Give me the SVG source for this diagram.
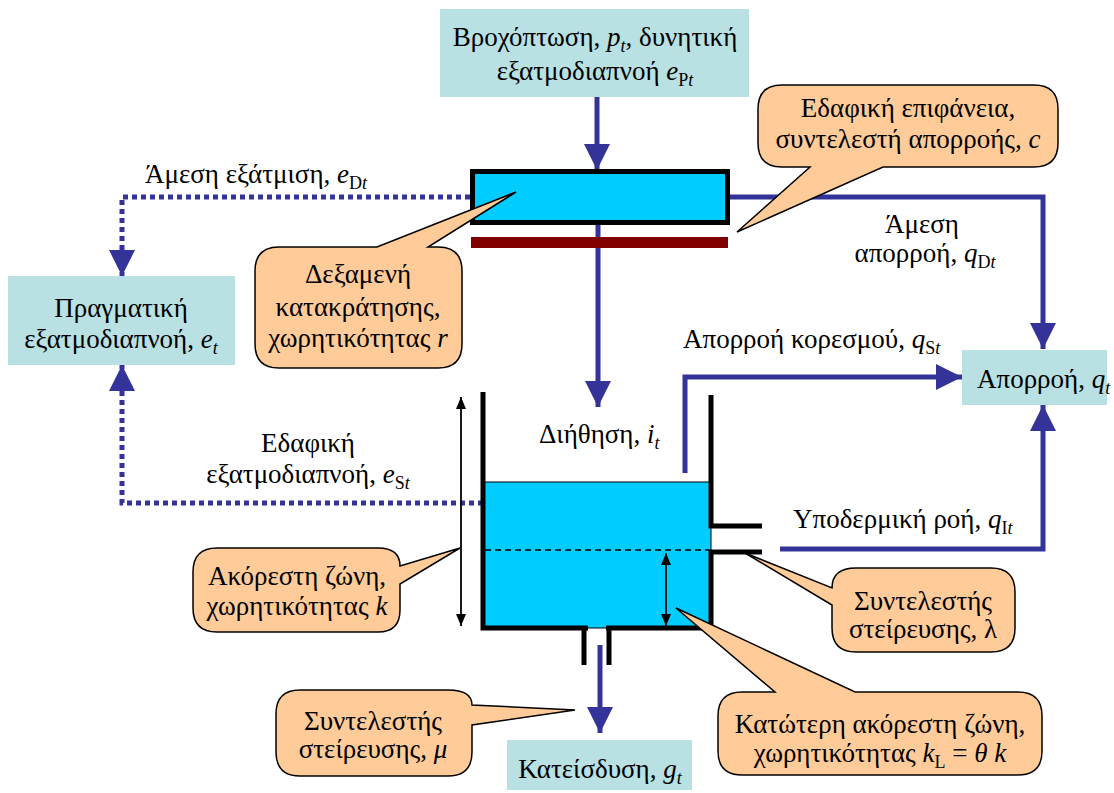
<svg xmlns="http://www.w3.org/2000/svg" width="1114" height="793" viewBox="0 0 1114 793" font-family="'Liberation Serif', 'Times New Roman', serif" font-size="27">
<defs>
<style>
.c{text-anchor:middle}
.i{font-style:italic}
.s{font-size:18px}
.box{fill:#b9e0e3}
.call{fill:#ffcc99;stroke:#000;stroke-width:1.5}
.flow{fill:none;stroke:#333399;stroke-width:5}
.dot{fill:none;stroke:#333399;stroke-width:5;stroke-dasharray:5 4}
.wall{fill:none;stroke:#000;stroke-width:5}
.thin{fill:none;stroke:#000;stroke-width:1.8}
</style>
<marker id="ah" viewBox="0 0 26 26" refX="26" refY="13" markerWidth="26" markerHeight="26" markerUnits="userSpaceOnUse" orient="auto">
<path d="M0,0 L26,13 L0,26 Z" fill="#333399"/>
</marker>
<marker id="bh" viewBox="0 0 12 10" refX="12" refY="5" markerWidth="12" markerHeight="10" markerUnits="userSpaceOnUse" orient="auto-start-reverse">
<path d="M0,0 L12,5 L0,10 Z" fill="#000"/>
</marker>
</defs>
<rect width="1114" height="793" fill="#fff"/>

<g id="connectors">
<path class="flow" d="M597,97 L597,170" marker-end="url(#ah)"/>
<path class="flow" d="M598,225 L598,407" marker-end="url(#ah)"/>
<path class="flow" d="M600,645 L600,733" marker-end="url(#ah)"/>
<path class="flow" d="M730,197 L1043,197 L1043,349" marker-end="url(#ah)"/>
<path class="flow" d="M685,473 L685,377 L962,377" marker-end="url(#ah)"/>
<path class="flow" d="M780,549 L1043,549 L1043,405" marker-end="url(#ah)"/>
<path class="dot" d="M470,197 L122,197 L122,276" marker-end="url(#ah)"/>
<path class="dot" d="M483,503 L122,503 L122,365" marker-end="url(#ah)"/>
</g>

<g id="rainfall">
<rect class="box" x="440" y="9" width="309" height="88"/>
<text class="c" x="595" y="46">Βροχόπτωση, <tspan class="i">p</tspan><tspan class="s i" dy="6">t</tspan><tspan dy="-6">, δυνητική</tspan></text>
<text class="c" x="595" y="80">εξατμοδιαπνοή <tspan class="i">e</tspan><tspan class="s" dy="6">P</tspan><tspan class="s i">t</tspan></text>
</g>

<g id="retention-reservoir">
<rect x="472.5" y="171.5" width="255" height="51" fill="#00ccff" stroke="#000" stroke-width="5"/>
<rect x="471" y="237" width="257" height="11" fill="#800000"/>
</g>

<g id="actual-evapotranspiration">
<rect class="box" x="8" y="276" width="227" height="89"/>
<text class="c" x="121" y="317">Πραγματική</text>
<text class="c" x="121" y="348">εξατμοδιαπνοή, <tspan class="i">e</tspan><tspan class="s i" dy="6">t</tspan></text>
</g>

<g id="runoff">
<rect class="box" x="962" y="350" width="145" height="55"/>
<text x="977" y="388">Απορροή, <tspan class="i">q</tspan><tspan class="s i" dy="6">t</tspan></text>
</g>

<g id="percolation">
<rect class="box" x="507" y="740" width="185" height="50"/>
<text class="c" x="600" y="778">Κατείσδυση, <tspan class="i">g</tspan><tspan class="s i" dy="6">t</tspan></text>
</g>

<g id="soil-tank">
<rect x="483" y="482" width="228" height="146" fill="#00ccff" stroke="#000" stroke-width="1"/>
<path class="wall" d="M483,392 L483,628 L588,628"/>
<path class="wall" d="M606,628 L711,628 L711,552 L762,552"/>
<path class="wall" d="M711,395 L711,526 L762,526"/>
<path class="wall" d="M584,628 L584,665 M609,628 L609,665"/>
<path d="M485,550 L709,550" stroke="#000" stroke-width="1.5" stroke-dasharray="6 4" fill="none"/>
<path class="thin" d="M461,397 L461,626" marker-start="url(#bh)" marker-end="url(#bh)"/>
<path class="thin" d="M666,553 L666,626" marker-start="url(#bh)" marker-end="url(#bh)"/>
</g>

<g id="labels">
<text x="145" y="183">Άμεση εξάτμιση, <tspan class="i">e</tspan><tspan class="s" dy="6">D</tspan><tspan class="s i">t</tspan></text>
<text class="c" x="922" y="233">Άμεση</text>
<text class="c" x="925" y="262">απορροή, <tspan class="i">q</tspan><tspan class="s" dy="6">D</tspan><tspan class="s i">t</tspan></text>
<text x="683" y="348">Απορροή κορεσμού, <tspan class="i">q</tspan><tspan class="s" dy="6">S</tspan><tspan class="s i">t</tspan></text>
<text x="539" y="443">Διήθηση, <tspan class="i">i</tspan><tspan class="s i" dy="6">t</tspan></text>
<text class="c" x="308" y="452">Εδαφική</text>
<text class="c" x="308" y="483">εξατμοδιαπνοή, <tspan class="i">e</tspan><tspan class="s" dy="6">S</tspan><tspan class="s i">t</tspan></text>
<text x="793" y="528">Υποδερμική ροή, <tspan class="i">q</tspan><tspan class="s" dy="6">I</tspan><tspan class="s i">t</tspan></text>
</g>

<g id="callout-retention">
<path class="call" d="M279,247 L377,247 L516,192 L428,247 L438,247 Q462,247 462,271 L462,344 Q462,368 438,368 L279,368 Q255,368 255,344 L255,271 Q255,247 279,247 Z"/>
<text class="c" x="358" y="283">Δεξαμενή</text>
<text class="c" x="358" y="316">κατακράτησης,</text>
<text class="c" x="358" y="347">χωρητικότητας <tspan class="i">r</tspan></text>
</g>

<g id="callout-surface">
<path class="call" d="M782,85 L1034,85 Q1058,85 1058,109 L1058,143 Q1058,167 1034,167 L883,167 L737,232 L810,167 L782,167 Q758,167 758,143 L758,109 Q758,85 782,85 Z"/>
<text class="c" x="908" y="117">Εδαφική επιφάνεια,</text>
<text class="c" x="908" y="148">συντελεστή απορροής, <tspan class="i">c</tspan></text>
</g>

<g id="callout-unsaturated">
<path class="call" d="M217,548 L378,548 Q400,548 400,566 L460,548 L400,584 L400,610 Q400,632 378,632 L217,632 Q193,632 193,608 L193,572 Q193,548 217,548 Z"/>
<text class="c" x="297" y="585">Ακόρεστη ζώνη,</text>
<text class="c" x="297" y="615">χωρητικότητας <tspan class="i">k</tspan></text>
</g>

<g id="callout-lambda">
<path class="call" d="M856,568 L991,568 Q1015,568 1015,592 L1015,628 Q1015,652 991,652 L856,652 Q832,652 832,628 L832,605 L745,553 L832,588 Q832,568 856,568 Z"/>
<text class="c" x="923" y="610">Συντελεστής</text>
<text class="c" x="923" y="638">στείρευσης, λ</text>
</g>

<g id="callout-lower">
<path class="call" d="M742,692 L775,692 L676,608 L855,692 L1018,692 Q1042,692 1042,716 L1042,751 Q1042,775 1018,775 L742,775 Q718,775 718,751 L718,716 Q718,692 742,692 Z"/>
<text class="c" x="880" y="733">Κατώτερη ακόρεστη ζώνη,</text>
<text class="c" x="880" y="762">χωρητικότητας <tspan class="i">k</tspan><tspan class="s" dy="6">L</tspan><tspan dy="-6"> = </tspan><tspan class="i">θ k</tspan></text>
</g>

<g id="callout-mu">
<path class="call" d="M300,690 L448,690 Q472,690 472,705 L575,710 L472,725 L472,752 Q472,776 448,776 L300,776 Q276,776 276,752 L276,714 Q276,690 300,690 Z"/>
<text class="c" x="373" y="730">Συντελεστής</text>
<text class="c" x="373" y="758">στείρευσης, <tspan class="i">μ</tspan></text>
</g>
</svg>
